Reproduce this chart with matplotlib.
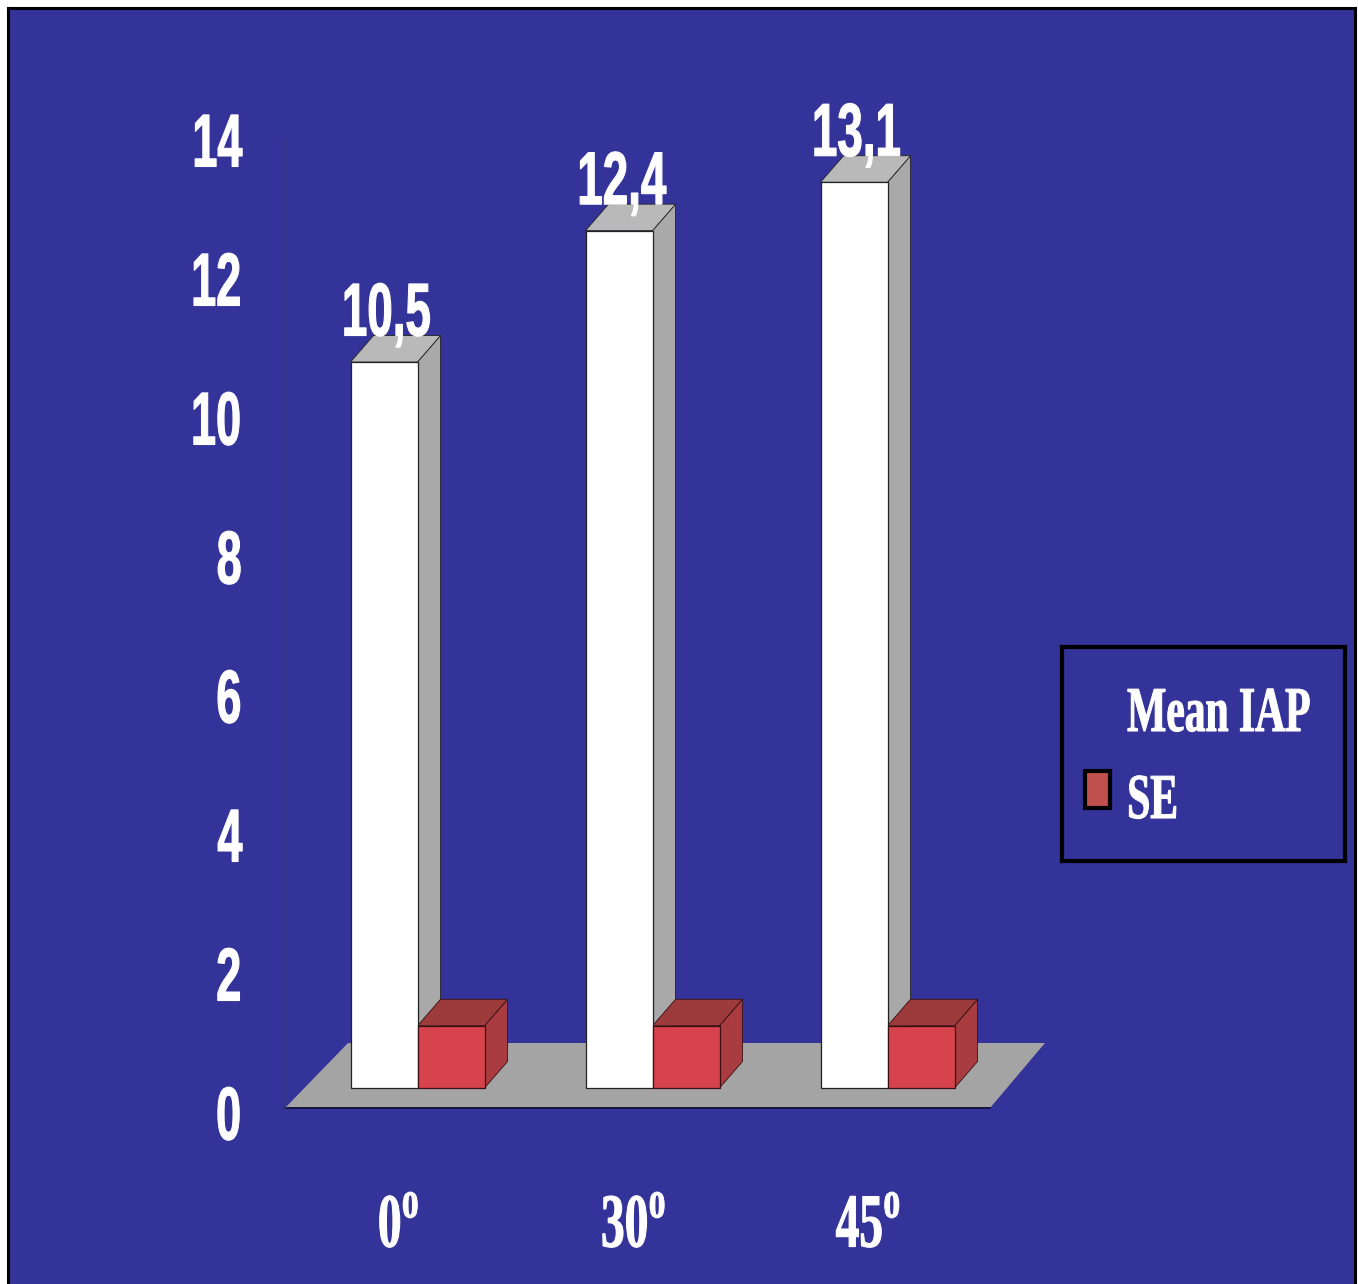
import matplotlib
matplotlib.use('Agg')
from matplotlib import pyplot as plt
from matplotlib.patches import Polygon, Rectangle
from matplotlib.patheffects import AbstractPathEffect
from matplotlib.transforms import Affine2D

angles = ['0', '30', '45']
mean_iap = [10.5, 12.4, 13.1]
se = [0.9, 0.9, 0.9]
value_labels = ['10,5', '12,4', '13,1']
y_ticks = [0, 2, 4, 6, 8, 10, 12, 14]
legend_names = ['Mean IAP', 'SE']

W, H = 1358, 1284
BLUE = '#333399'
PX_X = 235.0    # pixels per category
PX_Y = 69.14    # pixels per unit of y
X0, Y0 = 417.5, 1088.0   # pixel position of x=0, y=0
DEPTH_X = 23 / PX_X
DEPTH_Y = 26.5 / PX_Y
BAR_W = 67 / PX_X

SANS = 'Liberation Sans'
SERIF = 'Liberation Serif'

plt.rcParams['mathtext.fontset'] = 'custom'
plt.rcParams['mathtext.rm'] = SERIF + ':bold'


class Squeeze(AbstractPathEffect):
    # the reference text is very condensed, so squeeze glyphs around an anchor
    def __init__(self, sx, anchor='center', stroke=0.8):
        super().__init__()
        self.sx = sx
        self.anchor = anchor
        self.stroke = stroke

    def draw_path(self, renderer, gc, tpath, affine, rgbFace=None):
        ext = tpath.get_extents()
        c = {'left': ext.x0, 'right': ext.x1, 'center': (ext.x0 + ext.x1) / 2}[self.anchor]
        t = Affine2D().translate(-c, 0).scale(self.sx, 1).translate(c, 0)
        gc0 = renderer.new_gc()
        gc0.copy_properties(gc)
        gc0.set_linewidth(self.stroke)
        gc0.set_foreground(rgbFace)
        renderer.draw_path(gc0, tpath, t + affine, rgbFace)
        gc0.restore()


def px_box(left, top, right, bottom):
    return [left / W, 1 - bottom / H, (right - left) / W, (bottom - top) / H]


def to_x(px):
    return (px - X0) / PX_X


def to_y(px):
    return (Y0 - px) / PX_Y


def box3d(ax, left, width, height, front, side, top, edge):
    ax.bar(left, height, width, align='edge', color=front, edgecolor=edge, linewidth=0.9, zorder=3)
    right = left + width
    ax.add_patch(Polygon([(right, 0), (right + DEPTH_X, DEPTH_Y), (right + DEPTH_X, height + DEPTH_Y), (right, height)],
                         closed=True, facecolor=side, edgecolor=edge, linewidth=0.6, zorder=2))
    ax.add_patch(Polygon([(left, height), (left + DEPTH_X, height + DEPTH_Y), (right + DEPTH_X, height + DEPTH_Y), (right, height)],
                         closed=True, facecolor=top, edgecolor=edge, linewidth=0.6, zorder=2))


fig = plt.figure(figsize=(W / 100, H / 100), dpi=100, facecolor='white')

# blue panel with a black border, running off the bottom of the picture
bg = fig.add_axes(px_box(8, 8, 1355, 1300), facecolor=BLUE)
bg.set_xticks([])
bg.set_yticks([])
for s in bg.spines.values():
    s.set_color('black')
    s.set_linewidth(2.2)

# main plot
ax = fig.add_axes(px_box(285, 138, 1045, 1108), facecolor='none')
ax.set_xlim(to_x(285), to_x(1045))
ax.set_ylim(to_y(1108), to_y(138))
for s in ax.spines.values():
    s.set_visible(False)
ax.set_yticks([])

ax.add_patch(Polygon([(to_x(285), to_y(1108)), (to_x(990), to_y(1108)), (to_x(1045), to_y(1043)), (to_x(348), to_y(1043))],
                     closed=True, facecolor='#a4a4a4', edgecolor='none', zorder=1))
ax.plot([to_x(285), to_x(990)], [to_y(1108), to_y(1108)], color='#15153f', lw=1.4, zorder=1, clip_on=False)
ax.plot([to_x(285), to_x(285)], [to_y(1108), to_y(138)], color='#3f3f70', lw=1.0, zorder=1, clip_on=False)

for i in range(len(angles)):
    box3d(ax, i - BAR_W, BAR_W, mean_iap[i], 'white', '#a9a9a9', '#b9b9b9', '#222222')
    box3d(ax, i, 67 / PX_X, se[i], '#d6434d', '#a83c40', '#9c3a3c', '#3a1015')
    t = ax.text(i - BAR_W / 2 + 2 / PX_X, mean_iap[i] + DEPTH_Y, value_labels[i], color='white', family=SANS,
                weight='bold', fontsize=54, ha='center', va='baseline', zorder=5)
    t.set_path_effects([Squeeze(0.61)])

ax.set_xticks([i + to_x(398) for i in range(len(angles))],
              [a + r'$^{\mathrm{o}}$' for a in angles])
ax.tick_params(axis='x', length=0, pad=62, colors='white')
for t in ax.get_xticklabels():
    t.set_family(SERIF)
    t.set_weight('bold')
    t.set_fontsize(55)
    t.set_path_effects([Squeeze(0.62)])

# y tick labels sit on their own slightly offset scale, as in a 3D chart
ay = fig.add_axes(px_box(242.5, 139.5, 285, 1112.5), facecolor='none')
ay.set_ylim(0, 14)
ay.set_xticks([])
ay.set_yticks(y_ticks, [str(v) for v in y_ticks])
ay.tick_params(axis='y', length=0, pad=0, colors='white')
for s in ay.spines.values():
    s.set_visible(False)
for t in ay.get_yticklabels():
    t.set_family(SANS)
    t.set_weight('bold')
    t.set_fontsize(54)
    t.set_path_effects([Squeeze(0.6, 'right')])

# legend box
lg = fig.add_axes(px_box(1062, 647, 1345, 861), facecolor='none')
lg.set_xlim(1062, 1345)
lg.set_ylim(861, 647)
lg.set_xticks([])
lg.set_yticks([])
for s in lg.spines.values():
    s.set_color('black')
    s.set_linewidth(3.0)
lg.add_patch(Rectangle((1085, 771), 25, 37, facecolor='#c0504d', edgecolor='black', linewidth=3.0))
t = lg.text(1311, 731, legend_names[0], color='white', family=SERIF, weight='bold', fontsize=46, ha='right', va='baseline')
t.set_path_effects([Squeeze(0.65, 'right')])
t = lg.text(1126, 818, legend_names[1], color='white', family=SERIF, weight='bold', fontsize=46, ha='left', va='baseline')
t.set_path_effects([Squeeze(0.65, 'left')])

fig.savefig('out.png', dpi=100, facecolor='white')
